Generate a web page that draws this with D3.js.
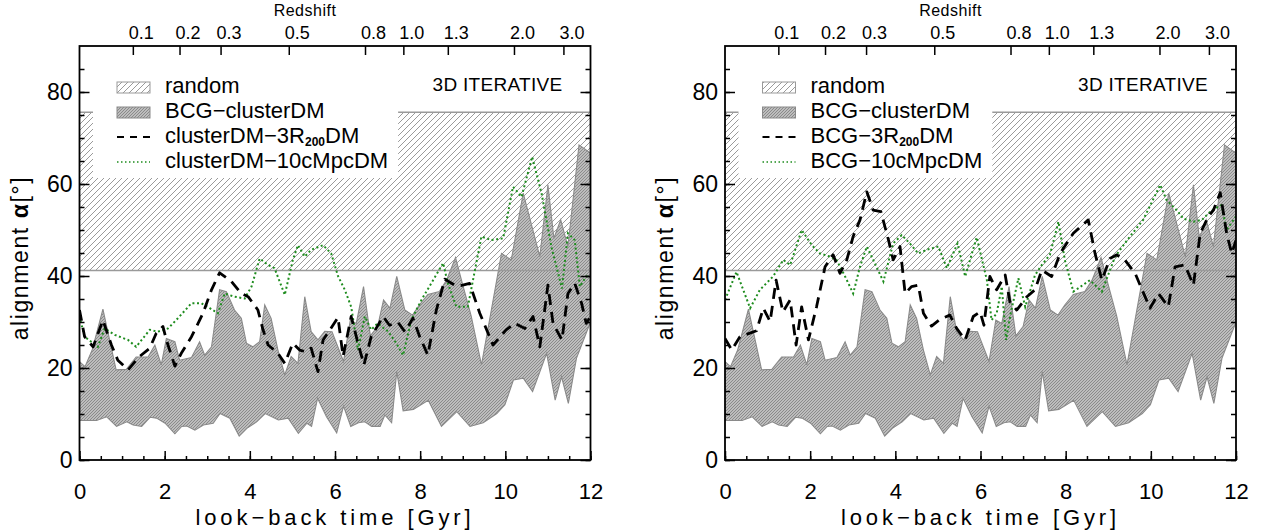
<!DOCTYPE html>
<html>
<head>
<meta charset="utf-8">
<script src="https://cdn.jsdelivr.net/npm/d3@7"></script>
<style>
  body { margin: 0; background: #fff; }
  svg text { font-family: "Liberation Sans", Arial, sans-serif; fill: #000; }
</style>
</head>
<body>
<svg width="1262" height="531"></svg>
<script>
// ---- data (look-back time [Gyr], alignment [deg]) ----
var timeTicks = [0, 2, 4, 6, 8, 10, 12];
var alignTicks = [0, 20, 40, 60, 80];
var zTicks = [0.1, 0.2, 0.3, 0.5, 0.8, 1.0, 1.3, 2.0, 3.0];
var zLabels = ["0.1", "0.2", "0.3", "0.5", "0.8", "1.0", "1.3", "2.0", "3.0"];

// random expectation band
var randomRange = [41.2, 75.6];

// BCG-clusterDM band (upper / lower edge), same in both panels
var bandUpper = [[0,21.4],[0.13,20.3],[0.3,24.0],[0.55,32.8],[0.86,19.6],[1.1,19.7],[1.33,22.4],[1.61,22.4],[1.77,25.0],[1.92,20.7],[2.04,26.4],[2.24,25.7],[2.35,21.7],[2.63,22.3],[2.82,25.7],[2.94,22.8],[3.1,24.6],[3.29,37.0],[3.45,36.6],[3.64,32.6],[3.8,30.8],[3.92,25.4],[4.07,24.6],[4.23,25.7],[4.35,33.7],[4.5,30.8],[4.66,23.9],[4.82,18.5],[4.97,22.5],[5.13,21.0],[5.29,35.5],[5.44,27.9],[5.6,26.1],[5.76,28.0],[5.93,27.9],[6.07,24.5],[6.2,21.4],[6.36,30.4],[6.5,29.7],[6.67,37.7],[6.83,27.0],[7.0,29.0],[7.14,34.8],[7.29,33.0],[7.45,39.9],[7.64,32.6],[7.82,31.5],[7.98,33.7],[8.18,36.0],[8.45,36.6],[8.62,39.1],[8.83,44.0],[8.97,39.1],[9.2,31.2],[9.44,20.7],[9.91,44.9],[10.14,43.5],[10.42,58.0],[10.81,44.2],[11.0,59.8],[11.14,48.2],[11.3,52.2],[11.47,46.4],[11.73,68.5],[12,66.7]];
var bandLower = [[0,8.6],[0.4,8.6],[0.64,9.4],[0.87,7.3],[1.11,8.3],[1.26,7.6],[1.46,7.3],[1.66,9.3],[1.81,9.1],[2.01,8.0],[2.24,5.7],[2.4,7.3],[2.52,7.4],[2.71,6.5],[2.91,7.6],[3.14,8.0],[3.3,10.1],[3.53,9.1],[3.75,5.2],[3.93,6.9],[4.16,8.3],[4.36,10.1],[4.67,8.7],[4.9,9.1],[5.14,5.8],[5.34,8.0],[5.45,7.3],[5.59,13.4],[5.8,9.4],[6.04,5.9],[6.2,11.7],[6.37,7.3],[6.55,8.1],[6.7,8.3],[6.86,7.3],[7.06,7.3],[7.17,9.8],[7.33,8.1],[7.45,19.2],[7.6,10.7],[7.84,11.0],[8.19,13.0],[8.5,7.3],[8.86,10.5],[9.17,7.3],[9.48,8.1],[9.8,10.1],[9.99,12.0],[10.19,17.4],[10.42,17.8],[10.64,14.9],[10.97,23.2],[11.17,13.0],[11.32,18.1],[11.48,12.3],[11.67,22.1],[12,30.0]];

// left panel lines
var leftDashed = [[0,32.6],[0.12,26.8],[0.32,24.6],[0.55,30.4],[0.75,25.0],[0.9,21.7],[1.14,19.6],[1.41,22.5],[1.65,24.3],[1.8,27.5],[1.96,29.0],[2.04,26.1],[2.24,20.4],[2.39,23.2],[2.63,26.8],[2.9,31.9],[3.1,37.0],[3.29,40.7],[3.57,38.8],[3.8,36.2],[3.96,35.5],[4.19,32.6],[4.31,28.3],[4.43,25.0],[4.66,23.2],[4.82,21.0],[5.01,25.4],[5.17,23.9],[5.33,23.5],[5.44,24.3],[5.6,19.2],[5.72,26.1],[5.88,28.3],[6.07,31.0],[6.19,22.5],[6.38,31.2],[6.54,25.4],[6.68,20.7],[6.85,26.8],[7.13,31.2],[7.28,29.3],[7.48,29.9],[7.64,27.9],[7.83,30.8],[7.99,26.8],[8.18,22.8],[8.38,32.6],[8.58,39.3],[8.85,37.8],[9.0,38.0],[9.16,38.4],[9.4,31.9],[9.71,25.0],[10.02,28.3],[10.22,29.7],[10.46,28.6],[10.65,31.2],[10.81,24.6],[11.0,38.0],[11.12,29.7],[11.33,26.1],[11.47,36.2],[11.63,38.4],[11.79,34.1],[11.9,29.7],[12,31.2]];
var leftDotted = [[0,31.2],[0.12,26.8],[0.43,24.6],[0.59,28.6],[0.83,27.2],[1.14,26.1],[1.33,24.6],[1.65,28.3],[1.84,27.9],[2.08,28.6],[2.31,30.8],[2.63,34.1],[2.86,34.1],[3.06,33.0],[3.25,31.9],[3.41,36.2],[3.64,35.5],[3.88,35.1],[4.04,37.7],[4.23,43.8],[4.43,42.4],[4.58,41.7],[4.82,35.9],[5.01,43.5],[5.13,46.7],[5.29,44.2],[5.44,45.7],[5.72,46.7],[5.91,44.9],[6.07,40.0],[6.23,37.0],[6.38,33.3],[6.54,23.9],[6.7,31.2],[6.85,28.3],[7.0,29.7],[7.25,27.9],[7.44,25.4],[7.6,22.8],[7.79,30.4],[8.03,34.8],[8.26,38.4],[8.54,42.8],[8.65,38.4],[8.85,33.3],[9.12,33.3],[9.24,39.1],[9.44,48.6],[9.67,47.8],[9.95,48.2],[10.18,59.4],[10.38,57.2],[10.63,65.9],[10.85,58.0],[11.08,46.4],[11.33,37.3],[11.47,49.3],[11.63,47.8],[11.75,37.7],[11.9,39.9],[12,40.0]];

// right panel lines
var rightDashed = [[0,26.4],[0.16,23.9],[0.35,26.8],[0.74,28.1],[0.9,33.0],[1.06,30.1],[1.2,39.1],[1.36,32.2],[1.53,34.8],[1.67,25.0],[1.8,33.3],[1.96,26.1],[2.15,33.3],[2.35,42.0],[2.54,44.6],[2.7,40.6],[2.86,43.5],[3.01,48.6],[3.17,52.2],[3.33,58.3],[3.48,54.3],[3.66,54.0],[3.84,47.8],[3.95,43.5],[4.11,46.4],[4.23,36.2],[4.38,37.7],[4.54,38.0],[4.66,31.9],[4.85,29.1],[5.05,30.6],[5.28,31.5],[5.44,28.6],[5.64,26.1],[5.83,31.2],[5.99,32.2],[6.08,29.3],[6.22,39.9],[6.38,37.0],[6.58,40.2],[6.69,34.4],[6.85,32.6],[7.09,35.5],[7.28,37.0],[7.44,41.3],[7.67,39.9],[7.87,44.9],[8.18,49.3],[8.53,52.2],[8.69,44.9],[8.85,39.1],[9.04,43.8],[9.2,44.6],[9.39,43.5],[9.63,40.6],[9.98,33.0],[10.18,36.2],[10.41,33.3],[10.57,42.0],[10.8,42.4],[11.0,38.0],[11.16,49.3],[11.35,52.9],[11.47,54.3],[11.63,58.1],[11.78,49.3],[11.9,44.9],[12,47.8]];
var rightDotted = [[0,34.8],[0.27,40.9],[0.59,33.0],[0.82,37.0],[1.13,39.9],[1.37,43.5],[1.53,42.4],[1.8,50.0],[2.04,46.7],[2.23,44.9],[2.47,44.2],[2.62,43.5],[2.82,39.9],[3.01,36.2],[3.17,42.0],[3.33,46.4],[3.48,43.5],[3.72,38.8],[3.95,47.1],[4.15,48.9],[4.34,47.1],[4.54,44.9],[4.74,45.7],[5.01,46.4],[5.21,41.7],[5.46,47.1],[5.64,39.9],[5.91,48.4],[6.15,39.1],[6.26,30.4],[6.38,31.9],[6.5,37.7],[6.6,26.1],[6.71,31.9],[6.89,39.5],[7.05,33.3],[7.28,40.2],[7.44,42.4],[7.63,44.6],[7.83,51.8],[7.98,43.5],[8.18,36.6],[8.57,39.1],[8.85,36.6],[9.16,44.2],[9.51,48.6],[9.82,52.2],[10.22,59.8],[10.37,56.5],[10.61,54.3],[10.76,52.5],[11.0,51.8],[11.2,52.2],[11.43,54.3],[11.66,55.4],[11.78,50.0],[12,53.0]];

var legendLeft = ["random", "BCG\u2212clusterDM", "clusterDM\u22123R", "clusterDM\u221210cMpcDM"];
var legendRight = ["random", "BCG\u2212clusterDM", "BCG\u22123R", "BCG\u221210cMpcDM"];

// ---- layout ----
var svg = d3.select("svg");
var plotTop = 46, plotBottom = 460, plotW = 511;
var green = "#1e8c1e";
var font = '"Liberation Sans", Arial, sans-serif';

// look-back time (Gyr) for a flat LCDM cosmology (Millennium: h=0.73, Om=0.25)
function lookback(z) {
  var tH = 977.8 / 73, n = 200, h = z / n;
  var f = function (x) { return 1 / ((1 + x) * Math.sqrt(0.25 * Math.pow(1 + x, 3) + 0.75)); };
  var s = f(0) + f(z);
  for (var i = 1; i < n; i++) s += (i % 2 ? 4 : 2) * f(i * h);
  return tH * s * h / 3;
}

var y = d3.scaleLinear().domain([0, 90]).range([plotBottom, plotTop]);

// hatch patterns
var defs = svg.append("defs");
var pr = defs.append("pattern").attr("id", "hatchRandom")
  .attr("patternUnits", "userSpaceOnUse").attr("width", 6).attr("height", 6);
pr.append("path").attr("d", "M-1,1 L1,-1 M0,6 L6,0 M5,7 L7,5")
  .attr("stroke", "#8e8e8e").attr("stroke-width", 0.9);
var pb = defs.append("pattern").attr("id", "hatchBand")
  .attr("patternUnits", "userSpaceOnUse").attr("width", 3).attr("height", 3);
pb.append("rect").attr("width", 3).attr("height", 3).attr("fill", "#bdbdbd");
pb.append("path").attr("d", "M-1,1 L1,-1 M0,3 L3,0 M2,4 L4,2")
  .attr("stroke", "#7c7c7c").attr("stroke-width", 0.8);

var panels = [
  {left: 79.5, dashed: leftDashed, dotted: leftDotted, names: legendLeft},
  {left: 725, dashed: rightDashed, dotted: rightDotted, names: legendRight}
];

panels.forEach(function (p, k) {
  var L = p.left;
  var x = d3.scaleLinear().domain([0, 12]).range([L, L + plotW]);
  var g = svg.append("g");

  defs.append("clipPath").attr("id", "clip" + k)
    .append("rect").attr("x", L).attr("y", plotTop).attr("width", plotW).attr("height", plotBottom - plotTop);
  var plot = g.append("g").attr("clip-path", "url(#clip" + k + ")");

  // BCG-clusterDM band
  var poly = bandUpper.concat(bandLower.slice().reverse());
  plot.append("path")
    .attr("d", d3.line().x(function (d) { return x(d[0]); }).y(function (d) { return y(d[1]); })
      .curve(d3.curveLinearClosed)(poly))
    .attr("fill", "url(#hatchBand)")
    .attr("stroke", "#8a8a8a").attr("stroke-width", 1.1);

  // random band
  plot.append("rect")
    .attr("x", x(0)).attr("width", x(12) - x(0))
    .attr("y", y(randomRange[1])).attr("height", y(randomRange[0]) - y(randomRange[1]))
    .attr("fill", "url(#hatchRandom)");
  plot.selectAll("line.rb").data(randomRange).enter().append("line")
    .attr("x1", x(0)).attr("x2", x(12))
    .attr("y1", function (d) { return y(d); }).attr("y2", function (d) { return y(d); })
    .attr("stroke", "#9a9a9a").attr("stroke-width", 1.4);

  // legend (white box is sized after the text)
  var lg = g.append("g");
  var box = lg.append("rect").attr("fill", "#fff");
  var tx = L + 85.5, rows = [93, 118, 143, 168];
  lg.append("rect").attr("x", L + 37.5).attr("y", 82).attr("width", 33).attr("height", 11)
    .attr("fill", "url(#hatchRandom)").attr("stroke", "#9a9a9a").attr("stroke-width", 1);
  lg.append("rect").attr("x", L + 37.5).attr("y", 107).attr("width", 33).attr("height", 11)
    .attr("fill", "url(#hatchBand)").attr("stroke", "#8a8a8a").attr("stroke-width", 1);
  lg.append("line").attr("x1", L + 37.5).attr("x2", L + 70.5).attr("y1", 137).attr("y2", 137)
    .attr("stroke", "#000").attr("stroke-width", 2).attr("stroke-dasharray", "7,6");
  lg.append("line").attr("x1", L + 37.5).attr("x2", L + 70.5).attr("y1", 162).attr("y2", 162)
    .attr("stroke", green).attr("stroke-width", 1.5).attr("stroke-dasharray", "1.5,2.5");
  var texts = [];
  p.names.forEach(function (name, i) {
    var t = lg.append("text").attr("x", tx).attr("y", rows[i]).attr("font-size", 22);
    if (i === 2) {
      t.append("tspan").text(name);
      t.append("tspan").attr("font-size", 12).attr("font-weight", "bold").attr("dy", 2.5).text("200");
      t.append("tspan").attr("dy", -2.5).text("DM");
    } else {
      t.text(name);
    }
    texts.push(t.node());
  });
  var maxW = d3.max(texts, function (n) { return n.getComputedTextLength(); });
  box.attr("x", L + 13.5).attr("y", plotTop + 1).attr("width", tx + maxW + 10 - (L + 13.5))
    .attr("height", 178 - plotTop - 1);

  g.append("text").attr("x", L + 483).attr("y", 91).attr("text-anchor", "end")
    .attr("font-size", 19).attr("letter-spacing", 0.3).text("3D ITERATIVE");

  // data lines
  var line = d3.line().x(function (d) { return x(d[0]); }).y(function (d) { return y(d[1]); });
  plot.append("path").attr("d", line(p.dotted)).attr("fill", "none")
    .attr("stroke", green).attr("stroke-width", 2).attr("stroke-dasharray", "2,2.6");
  plot.append("path").attr("d", line(p.dashed)).attr("fill", "none")
    .attr("stroke", "#000").attr("stroke-width", 2.8).attr("stroke-dasharray", "11,7")
    .attr("stroke-linejoin", "round");

  // axes
  function style(sel, fs) {
    sel.attr("font-family", font).attr("font-size", fs);
    sel.select(".domain").remove();
    sel.selectAll(".tick line").attr("stroke", "#000").attr("stroke-width", 1.5);
  }
  g.append("g").attr("transform", "translate(0," + plotBottom + ")")
    .call(d3.axisBottom(x).tickValues(d3.range(0, 12.01, 0.5)).tickSize(-4).tickFormat(""))
    .call(style, 22);
  g.append("g").attr("transform", "translate(0," + plotBottom + ")")
    .call(d3.axisBottom(x).tickValues(timeTicks).tickSize(-9).tickPadding(23))
    .call(style, 22);
  g.append("g").attr("transform", "translate(" + L + ",0)")
    .call(d3.axisLeft(y).tickValues(d3.range(0, 90, 5)).tickSize(-5).tickFormat(""))
    .call(style, 23);
  g.append("g").attr("transform", "translate(" + L + ",0)")
    .call(d3.axisLeft(y).tickValues(alignTicks).tickSize(-10).tickPadding(7))
    .call(style, 23);
  g.append("g").attr("transform", "translate(" + (L + plotW) + ",0)")
    .call(d3.axisRight(y).tickValues(d3.range(0, 90, 5)).tickSize(-5).tickFormat(""))
    .call(style, 23);
  g.append("g").attr("transform", "translate(" + (L + plotW) + ",0)")
    .call(d3.axisRight(y).tickValues(alignTicks).tickSize(-10).tickFormat(""))
    .call(style, 23);
  var topAxis = g.append("g").attr("transform", "translate(0," + plotTop + ")")
    .call(d3.axisTop(x).tickValues(zTicks.map(lookback)).tickSize(-9).tickPadding(7)
      .tickFormat(function (d, i) { return zLabels[i]; }))
    .call(style, 18);
  topAxis.selectAll(".tick text").attr("dx", 8);

  // frame
  g.append("rect").attr("x", L).attr("y", plotTop).attr("width", plotW).attr("height", plotBottom - plotTop)
    .attr("fill", "none").attr("stroke", "#000").attr("stroke-width", 1.8);

  // titles
  g.append("text").attr("x", L + plotW / 2).attr("y", 525).attr("text-anchor", "middle")
    .attr("font-size", 22).attr("letter-spacing", 3.9).text("look\u2212back time [Gyr]");
  g.append("text").attr("x", L + plotW / 2 - 30).attr("y", 16).attr("text-anchor", "middle")
    .attr("font-size", 16).attr("letter-spacing", 0.5).text("Redshift");
  var yt = g.append("text").attr("transform", "translate(" + (L - 52) + "," + ((plotTop + plotBottom) / 2 + 5) + ") rotate(-90)")
    .attr("text-anchor", "middle").attr("font-size", 23).attr("letter-spacing", 1.6);
  yt.append("tspan").text("alignment ");
  yt.append("tspan").attr("font-weight", "bold").text("\u03b1");
  yt.append("tspan").text("[\u00b0]");
});
</script>
</body>
</html>
